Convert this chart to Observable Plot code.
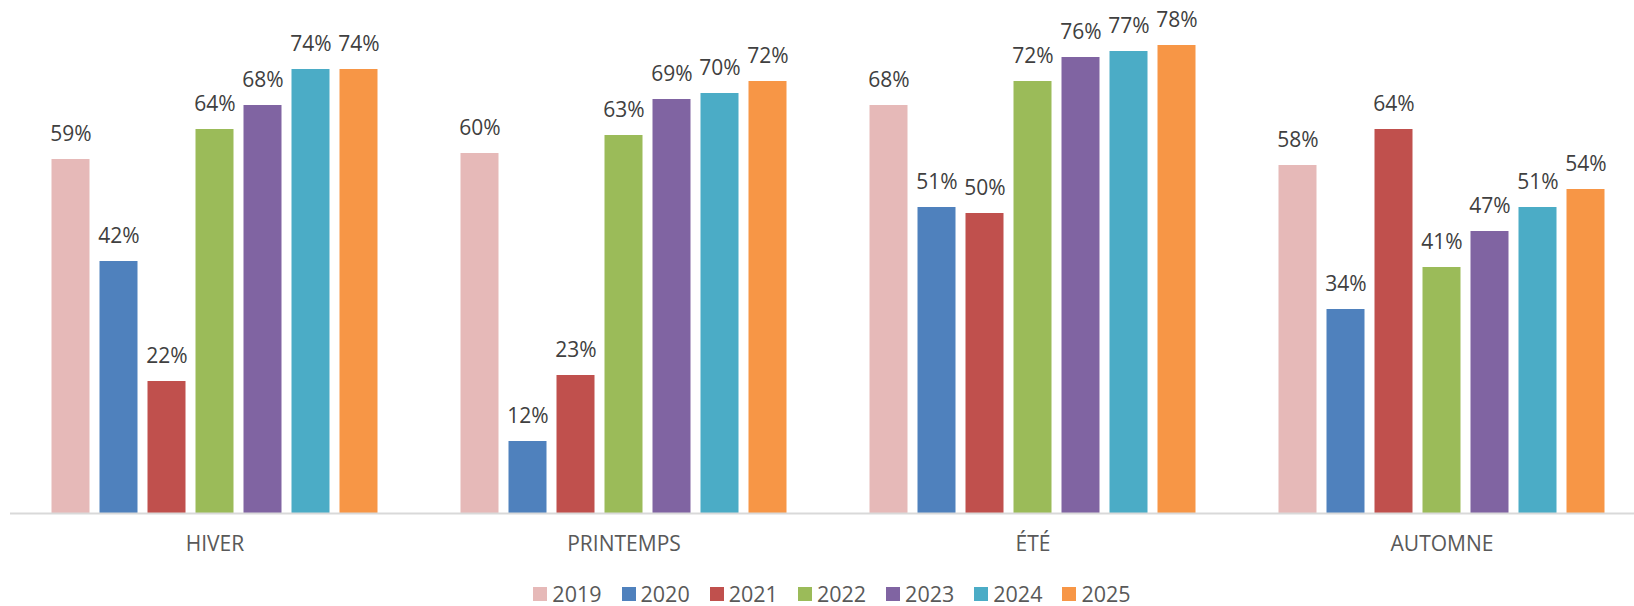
<!DOCTYPE html>
<html>
<head>
<meta charset="utf-8">
<script src="https://cdn.jsdelivr.net/npm/d3@7"></script>
<script src="https://cdn.jsdelivr.net/npm/@observablehq/plot@0.6"></script>
<style>
  html, body { margin: 0; padding: 0; background: #fff; overflow: hidden; }
  #chart svg { display: block; }
  #legend { width: 1634px; height: 22px; line-height: 22px; display: flex; justify-content: center; align-items: center;
            font-family: "Open Sans", sans-serif; font-size: 21.5px; color: #595959; padding-left: 50px; box-sizing: border-box; }
  .item { display: flex; align-items: center; margin-right: 20px; }
  .sw { width: 14px; height: 14px; margin-right: 5px; }
</style>
</head>
<body>
<div id="chart"></div>
<div id="legend"></div>
<script>
const seasons = ["HIVER", "PRINTEMPS", "ÉTÉ", "AUTOMNE"];
const years = ["2019", "2020", "2021", "2022", "2023", "2024", "2025"];
const colors = ["#E6B9B8", "#4F81BD", "#C0504D", "#9BBB59", "#8064A2", "#4BACC6", "#F79646"];
// values (%) per year, in season order
const v2019 = [59, 60, 68, 58];
const v2020 = [42, 12, 51, 34];
const v2021 = [22, 23, 50, 64];
const v2022 = [64, 63, 72, 41];
const v2023 = [68, 69, 76, 47];
const v2024 = [74, 70, 77, 51];
const v2025 = [74, 72, 78, 54];
const series = [v2019, v2020, v2021, v2022, v2023, v2024, v2025];

const data = [];
seasons.forEach((s, i) => {
  years.forEach((y, j) => data.push({season: s, year: y, value: series[j][i]}));
});

const chart = Plot.plot({
  width: 1634,
  height: 583,
  marginLeft: 9.5,
  marginRight: -13,
  marginTop: 3,
  marginBottom: 70,
  style: {fontFamily: "Open Sans, sans-serif", fontSize: "21px", color: "#595959", background: "#fff"},
  facet: {data, x: "season"},
  fx: {domain: seasons, padding: 0, tickSize: 0, tickPadding: 23, label: null},
  x: {domain: years, paddingInner: 0.215, paddingOuter: 0.80, axis: null},
  y: {domain: [0, 85], axis: null},
  color: {domain: years, range: colors},
  marks: [
    Plot.barY(data, {x: "year", y: "value", fill: "year"}),
    Plot.ruleY([0], {stroke: "#d9d9d9", strokeWidth: 2}),
    Plot.text(data, {x: "year", y: "value", text: d => d.value + "%", dy: -25, fill: "#404040", fontSize: 21})
  ]
});
document.getElementById("chart").appendChild(chart);

const legend = document.getElementById("legend");
years.forEach((y, i) => {
  const it = document.createElement("div");
  it.className = "item";
  it.innerHTML = `<span class="sw" style="background:${colors[i]}"></span><span>${y}</span>`;
  legend.appendChild(it);
});
</script>
</body>
</html>
